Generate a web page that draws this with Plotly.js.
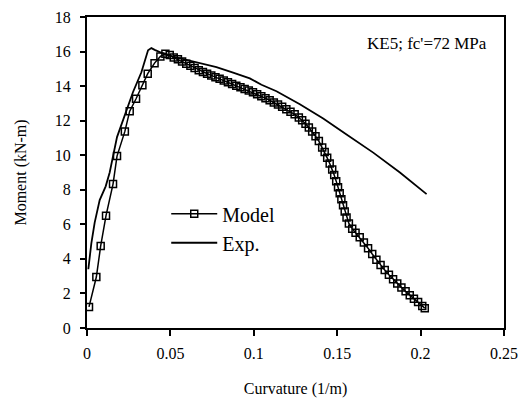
<!DOCTYPE html>
<html>
<head>
<meta charset="utf-8">
<script src="https://cdn.plot.ly/plotly-3.0.1.min.js"></script>
<style>html,body{margin:0;padding:0;background:#fff;}#chart{width:524px;height:400px;}</style>
</head>
<body>
<div id="chart"></div>
<script>
// Model (analytical) curve: curvature (1/m) vs moment (kN-m)
const modelCurvature = [0.0012,0.0056,0.0082,0.0114,0.0156,0.0180,0.0227,0.0256,0.0294,0.0332,0.0364,0.0405,0.0440,0.0470,0.0496,
  0.0520,0.0545,0.0570,0.0595,0.0620,0.0645,0.0670,0.0695,0.0720,0.0745,0.0770,0.0795,0.0820,0.0845,0.0870,0.0895,
  0.0920,0.0945,0.0970,0.0995,0.1020,0.1045,0.1070,0.1095,0.1120,0.1145,0.1170,0.1195,0.1220,0.1245,0.1270,0.1290,
  0.1310,0.1330,0.1350,0.1370,0.1390,0.1410,0.1425,0.1440,0.1455,0.1470,0.1482,0.1494,0.1505,0.1515,0.1525,0.1535,
  0.1545,0.1556,0.1570,0.1590,0.1610,0.1635,0.1660,0.1685,0.1710,0.1735,0.1760,0.1785,0.1810,0.1835,0.1860,0.1885,
  0.1910,0.1935,0.1960,0.1985,0.2010,0.2025];
const modelMoment = [1.22,2.95,4.75,6.50,8.33,9.95,11.38,12.55,13.27,14.05,14.72,15.33,15.72,15.88,15.80,
  15.65,15.55,15.42,15.30,15.18,15.05,14.92,14.82,14.72,14.62,14.52,14.42,14.32,14.22,14.12,14.02,
  13.93,13.84,13.74,13.64,13.53,13.42,13.30,13.18,13.05,12.93,12.80,12.66,12.52,12.37,12.18,12.02,
  11.82,11.60,11.38,11.10,10.82,10.45,10.18,9.85,9.52,9.18,8.85,8.50,8.15,7.80,7.45,7.10,
  6.75,6.40,6.05,5.75,5.52,5.25,4.95,4.62,4.28,3.95,3.65,3.35,3.08,2.82,2.58,2.35,
  2.12,1.90,1.70,1.50,1.28,1.15];

// Experimental curve
const expCurvature = [0.0008,0.0026,0.0046,0.0076,0.0112,0.0136,0.0180,0.0226,0.0276,0.0326,0.0366,0.0386,0.0406,
  0.0476,0.0576,0.0676,0.0776,0.0876,0.0976,0.1046,0.1136,0.1276,0.1416,0.1556,0.1716,0.1876,0.2036];
const expMoment = [3.40,4.90,6.10,7.40,8.20,9.00,11.05,12.30,13.66,14.80,16.07,16.20,16.10,
  15.80,15.58,15.35,15.10,14.78,14.45,14.08,13.70,12.95,12.12,11.20,10.15,9.00,7.75];

const xTicks = [0, 0.05, 0.1, 0.15, 0.2, 0.25];
const yTicks = [0, 2, 4, 6, 8, 10, 12, 14, 16, 18];
const seriesNames = ['Model', 'Exp.'];
const noteText = "KE5; fc'=72 MPa";

const serif = 'Liberation Serif, Times New Roman, serif';

const traces = [
  {x: modelCurvature, y: modelMoment, name: seriesNames[0], type: 'scatter', mode: 'lines+markers',
   line: {color: '#000', width: 1.5},
   marker: {symbol: 'square-open', size: 7, color: '#000', line: {color: '#000', width: 1.5}}},
  {x: expCurvature, y: expMoment, name: seriesNames[1], type: 'scatter', mode: 'lines',
   line: {color: '#000', width: 1.8}}
];

const axisCommon = {
  showline: true, linecolor: '#000', linewidth: 2, mirror: true,
  ticks: 'outside', tickcolor: '#000', tickwidth: 2,
  showgrid: false, zeroline: false,
  tickfont: {family: serif, size: 16, color: '#000'}
};

const layout = {
  width: 524, height: 400,
  margin: {l: 87, r: 20, t: 17, b: 72},
  paper_bgcolor: '#fff', plot_bgcolor: '#fff',
  showlegend: true,
  legend: {x: 0.19, y: 0.43, xanchor: 'left', yanchor: 'top', bgcolor: 'rgba(0,0,0,0)',
    itemwidth: 46,
    font: {family: serif, size: 20, color: '#000'}, tracegroupgap: 0},
  xaxis: Object.assign({}, axisCommon, {
    range: [0, 0.25], tickvals: xTicks, ticktext: xTicks.map(String), ticklen: 6,
    ticklabelstandoff: 4,
    title: {text: 'Curvature (1/m)', font: {family: serif, size: 16, color: '#000'}, standoff: 22}
  }),
  yaxis: Object.assign({}, axisCommon, {
    range: [0, 18], tickvals: yTicks, ticktext: yTicks.map(String), ticklen: 5,
    ticklabelstandoff: 6,
    title: {text: 'Moment (kN-m)', font: {family: serif, size: 16, color: '#000'}, standoff: 24}
  }),
  annotations: [{
    text: noteText, xref: 'paper', yref: 'paper', x: 0.963, y: 0.915, xanchor: 'right', yanchor: 'middle',
    showarrow: false, font: {family: serif, size: 17, color: '#000'}
  }]
};

Plotly.newPlot('chart', traces, layout, {displayModeBar: false, staticPlot: true});
</script>
</body>
</html>
